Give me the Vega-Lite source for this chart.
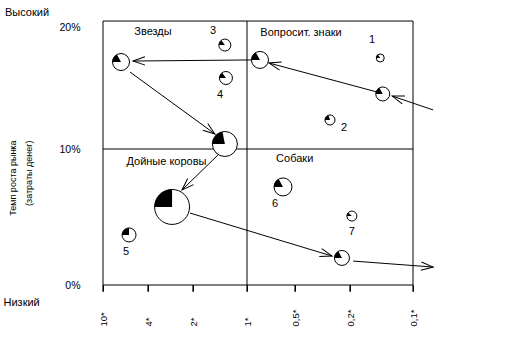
{
  "$schema": "https://vega.github.io/schema/vega-lite/v6.json",
  "width": 310,
  "height": 264,
  "autosize": {"type": "none"},
  "padding": {"left": 103, "top": 21, "right": 106, "bottom": 75},
  "background": "white",
  "config": {
    "font": "Liberation Sans",
    "view": {"stroke": null},
    "axis": {"grid": false, "labelColor": "black", "titleColor": "black", "tickColor": "black", "domainColor": "black", "labelFont": "Liberation Sans", "titleFont": "Liberation Sans", "titleFontWeight": "normal"}
  },
  "datasets": {
    "frame": [
      {"x_from": 10, "x_to": 10, "y_from": 0, "y_to": 20.49},
      {"x_from": 0.1, "x_to": 0.1, "y_from": 0, "y_to": 20.49},
      {"x_from": 10, "x_to": 0.1, "y_from": 0, "y_to": 0},
      {"x_from": 10, "x_to": 0.1, "y_from": 20.49, "y_to": 20.49},
      {"x_from": 1, "x_to": 1, "y_from": 0, "y_to": 20.49},
      {"x_from": 10, "x_to": 0.1, "y_from": 10, "y_to": 10}
    ],
    "share_ticks": [
      {"share": 10, "tick_top": 0, "tick_bottom": -0.5},
      {"share": 4, "tick_top": 0, "tick_bottom": -0.5},
      {"share": 2, "tick_top": 0, "tick_bottom": -0.5},
      {"share": 1, "tick_top": 0, "tick_bottom": -0.5},
      {"share": 0.5, "tick_top": 0, "tick_bottom": -0.5},
      {"share": 0.2, "tick_top": 0, "tick_bottom": -0.5},
      {"share": 0.1, "tick_top": 0, "tick_bottom": -0.5}
    ],
    "bubbles": [
      {"share": 7.6, "growth": 17.13, "sales": 8.5, "wedge_from": 0.75, "wedge_to": 0.92},
      {"share": 1.41, "growth": 18.52, "sales": 6, "wedge_from": 0.75, "wedge_to": 0.9},
      {"share": 1.39, "growth": 15.82, "sales": 6.5, "wedge_from": 0.75, "wedge_to": 0.9},
      {"share": 0.865, "growth": 17.3, "sales": 8.5, "wedge_from": 0.75, "wedge_to": 0.92},
      {"share": 0.152, "growth": 17.46, "sales": 4, "wedge_from": 0.75, "wedge_to": 0.9},
      {"share": 0.148, "growth": 14.51, "sales": 7, "wedge_from": 0.75, "wedge_to": 0.92},
      {"share": 0.309, "growth": 12.38, "sales": 5, "wedge_from": 0.75, "wedge_to": 0.95},
      {"share": 1.41, "growth": 10.41, "sales": 12.5, "wedge_from": 0.75, "wedge_to": 0.97},
      {"share": 2.93, "growth": 5.74, "sales": 17.5, "wedge_from": 0.75, "wedge_to": 1.0},
      {"share": 6.53, "growth": 3.68, "sales": 7, "wedge_from": 0.75, "wedge_to": 1.0},
      {"share": 0.625, "growth": 7.21, "sales": 9, "wedge_from": 0.75, "wedge_to": 0.92},
      {"share": 0.197, "growth": 5.07, "sales": 5, "wedge_from": 0.75, "wedge_to": 0.87},
      {"share": 0.244, "growth": 1.99, "sales": 7.5, "wedge_from": 0.75, "wedge_to": 0.92}
    ],
    "arrows": [
      {"from_share": 0.068, "from_growth": 13.2, "to_share": 0.133, "to_growth": 14.34},
      {"from_share": 0.157, "from_growth": 14.67, "to_share": 0.771, "to_growth": 17.05},
      {"from_share": 0.958, "from_growth": 17.3, "to_share": 6.0, "to_growth": 17.21},
      {"from_share": 6.4, "from_growth": 16.31, "to_share": 1.593, "to_growth": 11.23},
      {"from_share": 1.537, "from_growth": 9.56, "to_share": 2.489, "to_growth": 6.99},
      {"from_share": 2.133, "from_growth": 5.29, "to_share": 0.298, "to_growth": 2.13},
      {"from_share": 0.195, "from_growth": 1.76, "to_share": 0.068, "to_growth": 1.32}
    ],
    "labels": [
      {"text": "Звезды", "share": 3.78, "growth": 19.59},
      {"text": "Вопросит. знаки", "share": 0.467, "growth": 19.51},
      {"text": "Дойные коровы", "share": 3.18, "growth": 9.04},
      {"text": "Собаки", "share": 0.503, "growth": 9.26},
      {"text": "3", "share": 1.63, "growth": 19.67},
      {"text": "1", "share": 0.165, "growth": 18.93},
      {"text": "4", "share": 1.5, "growth": 14.43},
      {"text": "2", "share": 0.233, "growth": 11.72},
      {"text": "5", "share": 6.93, "growth": 2.43},
      {"text": "6", "share": 0.708, "growth": 5.96},
      {"text": "7", "share": 0.197, "growth": 3.9}
    ],
    "axis_notes": [
      {"text": "Высокий", "share": 23.07, "growth": 21.15}
    ]
  },
  "layer": [
    {
      "data": {"name": "labels"},
      "mark": {"type": "text", "fontSize": 11, "color": "black", "align": "center", "baseline": "middle"},
      "encoding": {
        "x": {"field": "share", "type": "quantitative",
          "scale": {"type": "linear", "domain": [10, 4, 2, 1, 0.5, 0.2, 0.1], "range": [0, 45, 90, 144, 192, 247, 310], "zero": false, "nice": false},
          "axis": {"orient": "bottom", "values": [10, 4, 2, 1, 0.5, 0.2, 0.1], "labelExpr": "replace('' + datum.value, '.', ',') + '*'", "labelAngle": 270, "labelAlign": "left", "labelBaseline": "middle", "labelPadding": 35, "ticks": true, "tickSize": 6, "tickWidth": 1, "tickColor": "black", "labelFontSize": 9.5, "domain": false, "labelOverlap": false, "labelBound": false, "labelFlush": false,
            "title": "Низкий", "titleX": -100, "titleY": 17, "titleAlign": "left", "titleBaseline": "middle", "titleAngle": 0, "titleFontSize": 11}},
        "y": {"field": "growth", "type": "quantitative",
          "scale": {"type": "linear", "domain": [0, 10, 20], "range": [264, 128, 6], "zero": false, "nice": false},
          "axis": {"orient": "left", "values": [0, 10, 20], "labelExpr": "datum.value + '%'", "ticks": false, "domain": false, "labelPadding": 23, "labelFontSize": 10.5, "labelOverlap": false, "labelBound": false, "labelFlush": false,
            "title": ["Темп роста рынка", "(затраты денег)"], "titleAngle": 270, "titleX": -95, "titleY": 119, "titleAlign": "right", "titleBaseline": "top", "titleLineHeight": 16, "titleFontSize": 9}},
        "text": {"field": "text"}
      }
    },
    {
      "data": {"name": "axis_notes"},
      "mark": {"type": "text", "fontSize": 11, "color": "black", "align": "left", "baseline": "middle"},
      "encoding": {
        "x": {"field": "share", "type": "quantitative"},
        "y": {"field": "growth", "type": "quantitative"},
        "text": {"field": "text"}
      }
    },
    {
      "data": {"name": "share_ticks"},
      "mark": {"type": "rule", "color": "black", "strokeWidth": 1.2},
      "encoding": {
        "x": {"field": "share", "type": "quantitative"},
        "y": {"field": "tick_top", "type": "quantitative"},
        "y2": {"field": "tick_bottom"}
      }
    },
    {
      "data": {"name": "frame"},
      "mark": {"type": "rule", "color": "black", "strokeWidth": 1},
      "encoding": {
        "x": {"field": "x_from", "type": "quantitative"},
        "x2": {"field": "x_to"},
        "y": {"field": "y_from", "type": "quantitative"},
        "y2": {"field": "y_to"}
      }
    },
    {
      "data": {"name": "arrows"},
      "mark": {"type": "rule", "color": "black", "strokeWidth": 1},
      "encoding": {
        "x": {"field": "from_share", "type": "quantitative"},
        "x2": {"field": "to_share"},
        "y": {"field": "from_growth", "type": "quantitative"},
        "y2": {"field": "to_growth"}
      }
    },
    {
      "data": {"name": "arrows"},
      "mark": {"type": "point", "shape": "M-1,-0.35L0,0L-1,0.35", "size": 576, "filled": false, "stroke": "black", "strokeWidth": 1, "opacity": 1},
      "encoding": {
        "x": {"field": "to_share", "type": "quantitative"},
        "y": {"field": "to_growth", "type": "quantitative"},
        "angle": {"value": {"expr": "atan2(scale('y', datum.to_growth) - scale('y', datum.from_growth), scale('x', datum.to_share) - scale('x', datum.from_share)) * 180 / PI"}}
      }
    },
    {
      "data": {"name": "bubbles"},
      "mark": {"type": "arc", "theta": 0, "theta2": 6.2832, "fill": "white", "stroke": "black", "strokeWidth": 1},
      "encoding": {
        "x": {"field": "share", "type": "quantitative"},
        "y": {"field": "growth", "type": "quantitative"},
        "radius": {"field": "sales", "type": "quantitative", "stack": null, "scale": {"type": "linear", "domain": [0, 20], "range": [0, 20], "zero": true}}
      }
    },
    {
      "data": {"name": "bubbles"},
      "mark": {"type": "arc", "fill": "black", "stroke": null},
      "encoding": {
        "x": {"field": "share", "type": "quantitative"},
        "y": {"field": "growth", "type": "quantitative"},
        "radius": {"field": "sales", "type": "quantitative", "stack": null, "scale": {"type": "linear", "domain": [0, 20], "range": [0, 20], "zero": true}},
        "theta": {"field": "wedge_from", "type": "quantitative", "stack": null, "scale": {"type": "linear", "domain": [0, 1], "range": [0, 6.283185307], "zero": false, "nice": false}},
        "theta2": {"field": "wedge_to"}
      }
    }
  ]
}
